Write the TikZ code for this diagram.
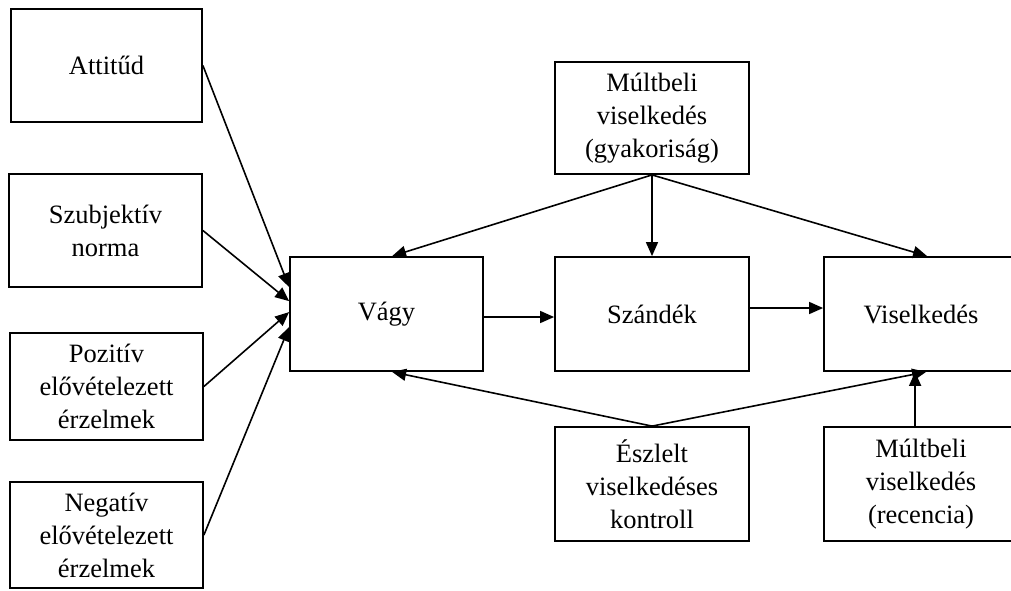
\documentclass[tikz,border=0pt]{standalone}
\usepackage{fontspec}
\setmainfont{Liberation Serif}
\usetikzlibrary{arrows.meta,calc}
\begin{document}
\begin{tikzpicture}[x=1pt,y=-1pt,
  box/.style={draw,line width=1.8pt,inner sep=0pt,align=center,
    font=\fontsize{26.5}{33}\selectfont},
  conn/.style={line width=1.6pt,-{Triangle[length=14pt,width=12pt]}}]
\clip (0,0) rectangle (1011,590);
\fill[white] (0,0) rectangle (1011,590);
% left column
\node[box,minimum width=191pt,minimum height=113pt] (A) at (106.5,65.5) {Attitűd};
\node[box,minimum width=193pt,minimum height=113pt] (S) at (105.5,230.5) {Szubjektív\\norma};
\node[box,minimum width=193pt,minimum height=107pt] (P) at (106.5,386.5) {Pozitív\\elővételezett\\érzelmek};
\node[box,minimum width=193pt,minimum height=106pt] (N) at (106.5,535) {Negatív\\elővételezett\\érzelmek};
% middle row
\node[box,minimum width=193pt,minimum height=114pt] (V) at (386.5,314) {Vágy};
\node[box,minimum width=194pt,minimum height=114pt] (Sz) at (652,314) {Szándék};
\node[box,minimum width=194pt,minimum height=114pt] (Vi) at (921,314) {Viselkedés};
% top and bottom
\node[box,minimum width=194pt,minimum height=112pt] (M) at (652,118) {Múltbeli\\viselkedés\\(gyakoriság)};
\node[box,minimum width=194pt,minimum height=114pt] (E) at (652,484) {Észlelt\\viselkedéses\\kontroll};
\node[box,minimum width=194pt,minimum height=114pt] (R) at (921,484) {Múltbeli\\viselkedés\\(recencia)};
% connectors into Vágy
\draw[conn] (A.east) -- ($(V.north west)+(0,31)$);
\draw[conn] (S.east) -- ($(V.north west)+(0,45)$);
\draw[conn] (P.east) -- ($(V.north west)+(0,56)$);
\draw[conn] (N.east) -- ($(V.north west)+(0,71)$);
% from Múltbeli (gyakoriság)
\draw[conn] (M.south) -- ($(V.north west)+(103,0)$);
\draw[conn] (M.south) -- (Sz.north);
\draw[conn] (M.south) -- ($(Vi.north west)+(104,0)$);
% main chain
\draw[conn] ($(V.east)+(0,3)$) -- ($(Sz.west)+(0,3)$);
\draw[conn] ($(Sz.east)+(0,-6)$) -- ($(Vi.west)+(0,-6)$);
% from Észlelt
\draw[conn] (E.north) -- ($(V.south west)+(103,0)$);
\draw[conn] (E.north) -- ($(Vi.south west)+(103,0)$);
% from recencia
\draw[conn] ($(R.north west)+(92,0)$) -- ($(Vi.south west)+(92,0)$);
\end{tikzpicture}
\end{document}
